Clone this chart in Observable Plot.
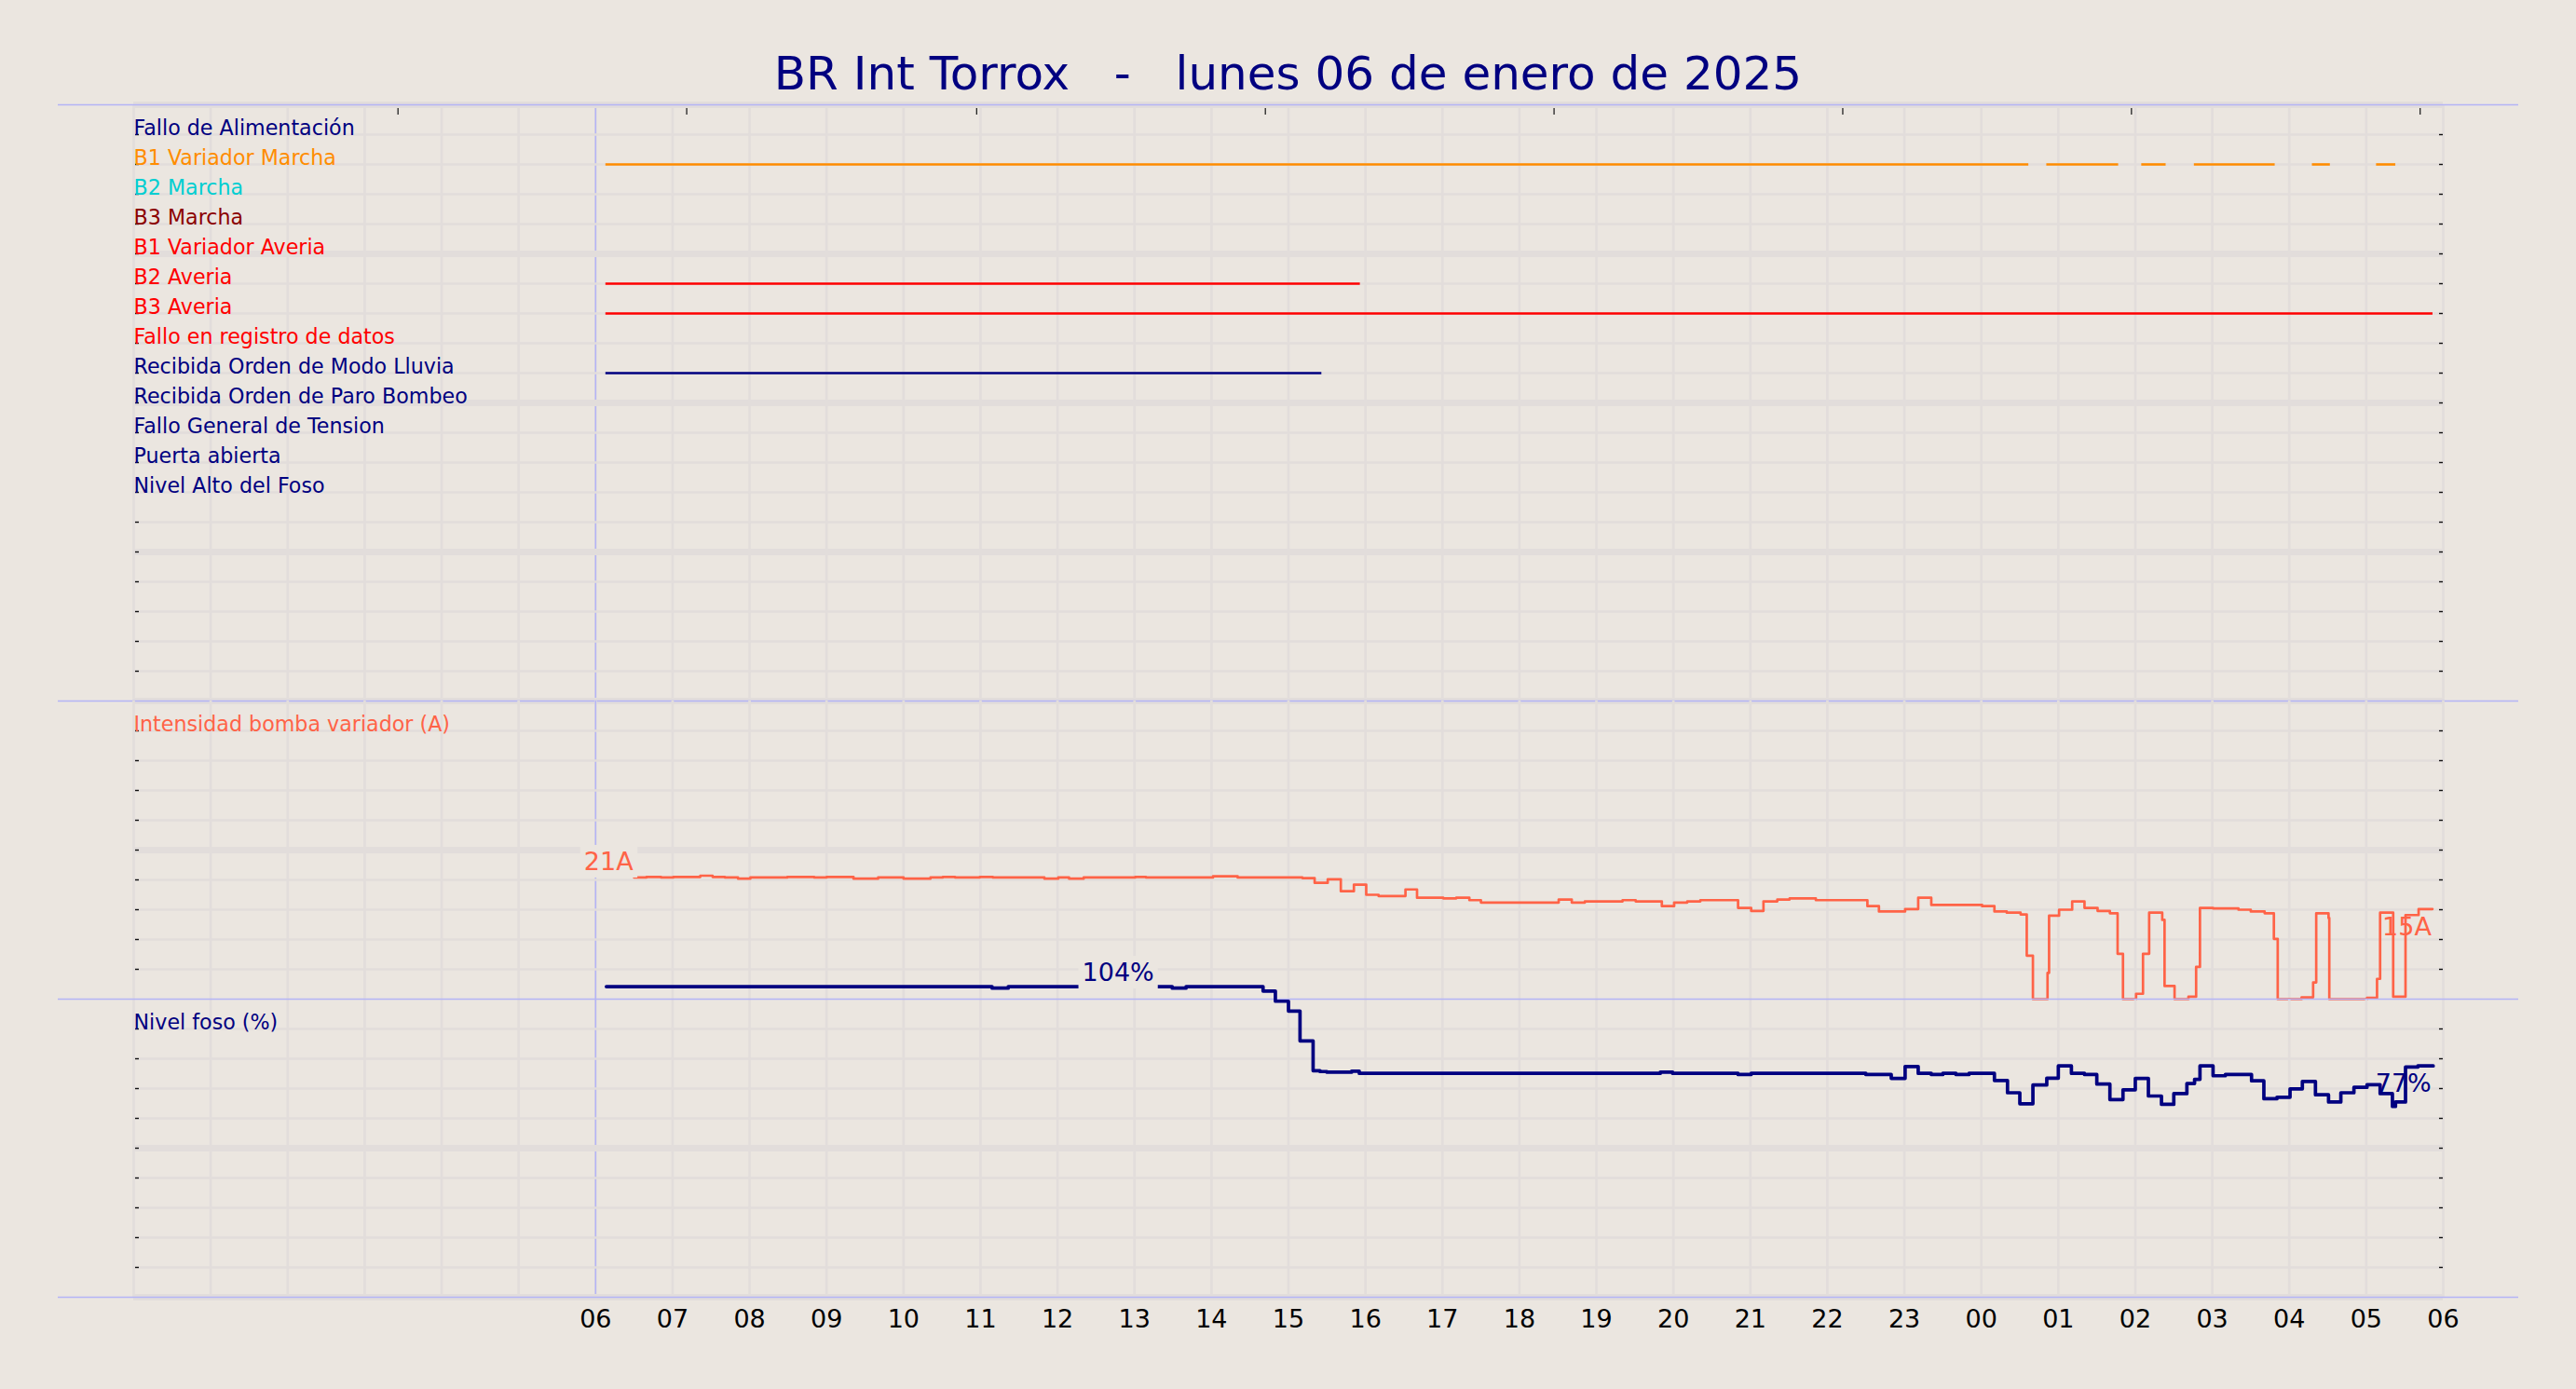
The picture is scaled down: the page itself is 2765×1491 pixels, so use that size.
<!DOCTYPE html>
<html>
<head>
<meta charset="utf-8">
<script src="https://cdn.jsdelivr.net/npm/d3@7"></script>
<script src="https://cdn.jsdelivr.net/npm/@observablehq/plot@0.6"></script>
<style>
  html, body { margin: 0; padding: 0; background: #ebe6e0; }
  #chart { position: relative; width: 2765px; height: 1491px; background: #ebe6e0; overflow: hidden; font-family: "DejaVu Sans", sans-serif; }
  #title { position: absolute; left: 0; top: 50px; width: 2765px; text-align: center; font-size: 50px; line-height: normal; color: #000080; white-space: pre; }
  .panel { position: absolute; left: 0; }
</style>
</head>
<body>
<div id="chart"><div id="title"></div></div>
<script>
// ---------------- DATA ----------------
const chartTitle = "BR Int Torrox   -   lunes 06 de enero de 2025";

const signalNames = [
  "Fallo de Alimentación", "B1 Variador Marcha", "B2 Marcha", "B3 Marcha",
  "B1 Variador Averia", "B2 Averia", "B3 Averia", "Fallo en registro de datos",
  "Recibida Orden de Modo Lluvia", "Recibida Orden de Paro Bombeo",
  "Fallo General de Tension", "Puerta abierta", "Nivel Alto del Foso"
];
const signalColors = [
  "#000080", "#ff8c00", "#00ced1", "#8b0000",
  "#ff0000", "#ff0000", "#ff0000", "#ff0000",
  "#000080", "#000080", "#000080", "#000080", "#000080"
];

// active intervals [start, end]
const b1VariadorMarchaOn = [
  ["2025-01-06 06:08", "2025-01-07 00:37"], ["2025-01-07 00:51", "2025-01-07 01:47"],
  ["2025-01-07 02:05", "2025-01-07 02:24"], ["2025-01-07 02:46", "2025-01-07 03:49"],
  ["2025-01-07 04:18", "2025-01-07 04:32"], ["2025-01-07 05:08", "2025-01-07 05:23"]
];
const b2AveriaOn = [["2025-01-06 06:08", "2025-01-06 15:56"]];
const b3AveriaOn = [["2025-01-06 06:08", "2025-01-07 05:52"]];
const modoLluviaOn = [["2025-01-06 06:08", "2025-01-06 15:26"]];

// Intensidad bomba variador (A): hours since 2025-01-06 00:00, step values
const currentHours = [6.50, 6.66, 6.85, 7.01, 7.36, 7.52, 7.68, 7.85, 8.01, 8.49, 8.84, 9.00, 9.35, 9.67, 10.00, 10.35, 10.51, 10.67, 10.99, 11.16, 11.83, 12.01, 12.15, 12.34, 13.01, 13.15, 14.02, 14.34, 15.18, 15.34, 15.51, 15.68, 15.85, 16.01, 16.17, 16.52, 16.67, 17.01, 17.18, 17.35, 17.50, 18.51, 18.68, 18.85, 19.34, 19.51, 19.85, 20.01, 20.18, 20.35, 20.84, 21.01, 21.17, 21.35, 21.51, 21.85, 22.52, 22.67, 23.01, 23.18, 23.35, 24.01, 24.17, 24.33, 24.51, 24.59, 24.67, 24.86, 24.88, 25.01, 25.18, 25.34, 25.51, 25.67, 25.77, 25.84, 26.01, 26.10, 26.18, 26.35, 26.38, 26.51, 26.69, 26.79, 26.84, 27.01, 27.34, 27.50, 27.68, 27.80, 27.85, 28.16, 28.31, 28.35, 28.51, 28.52, 29.01, 29.14, 29.18, 29.35, 29.51, 29.68, 29.86];
const currentAmps = [20.4, 20.5, 20.4, 20.5, 20.7, 20.5, 20.4, 20.2, 20.4, 20.5, 20.4, 20.5, 20.2, 20.4, 20.2, 20.4, 20.5, 20.4, 20.5, 20.4, 20.2, 20.4, 20.2, 20.4, 20.5, 20.4, 20.6, 20.4, 20.3, 19.5, 20.1, 18.1, 19.2, 17.5, 17.3, 18.4, 17.0, 16.9, 17.0, 16.6, 16.2, 16.7, 16.2, 16.4, 16.6, 16.4, 15.6, 16.2, 16.4, 16.6, 15.3, 14.8, 16.4, 16.7, 16.9, 16.6, 15.6, 14.7, 15.1, 17.0, 15.8, 15.6, 14.7, 14.5, 14.2, 7.3, 0, 4.4, 14.0, 15.0, 16.4, 15.3, 14.8, 14.4, 7.6, 0, 0.9, 7.6, 14.5, 13.3, 2.2, 0, 0.4, 5.4, 15.3, 15.2, 15.0, 14.7, 14.4, 10.1, 0, 0.3, 2.8, 14.4, 13.6, 0, 0.2, 3.4, 14.5, 0.4, 14.1, 15.1, 15.1];

// Nivel foso (%): hours since 2025-01-06 00:00, step values
const levelHours = [6.14, 11.15, 11.36, 13.49, 13.67, 14.67, 14.83, 15.00, 15.15, 15.32, 15.41, 15.50, 15.82, 15.92, 19.83, 19.99, 20.84, 21.01, 22.50, 22.83, 23.01, 23.18, 23.35, 23.50, 23.67, 23.84, 24.17, 24.34, 24.50, 24.67, 24.85, 25.00, 25.17, 25.34, 25.50, 25.67, 25.84, 26.00, 26.17, 26.34, 26.50, 26.67, 26.77, 26.84, 27.01, 27.17, 27.51, 27.67, 27.84, 28.01, 28.17, 28.34, 28.51, 28.67, 28.84, 29.01, 29.18, 29.34, 29.38, 29.51, 29.67, 29.87];
const levelPct = [104.2, 103.7, 104.2, 103.7, 104.2, 102.7, 99.3, 96.0, 86.0, 76.0, 75.7, 75.5, 75.8, 75.1, 75.5, 75.1, 74.7, 75.1, 74.7, 73.4, 77.4, 75.1, 74.7, 75.1, 74.7, 75.1, 72.7, 68.6, 64.9, 71.2, 73.5, 77.6, 75.1, 74.7, 71.5, 66.3, 69.6, 73.4, 67.5, 64.7, 68.3, 71.7, 73.1, 77.6, 74.3, 74.7, 72.6, 66.6, 67.1, 69.9, 72.4, 67.9, 65.5, 68.6, 70.4, 71.3, 68.3, 64.0, 65.5, 77.2, 77.6, 77.6];

// value annotations
const currentLabelHours = [6.50, 29.86];
const currentLabelValues = [20.4, 15.1];
const currentLabelTexts = ["21A", "15A"];
const levelLabelHours = [12.32, 29.87];
const levelLabelValues = [104.2, 77.6];
const levelLabelTexts = ["104%", "77%"];

const currentTitle = "Intensidad bomba variador (A)";
const levelTitle = "Nivel foso (%)";

const xTickLabels = ["06","07","08","09","10","11","12","13","14","15","16","17","18","19","20","21","22","23","00","01","02","03","04","05","06"];
const topTickTimes = ["2025-01-06 03:26", "2025-01-06 07:11", "2025-01-06 10:57", "2025-01-06 14:42", "2025-01-06 18:27", "2025-01-06 22:12", "2025-01-07 01:57", "2025-01-07 05:42"];
const dayStart = "2025-01-06 06:00";
const domainStart = "2025-01-06 00:00";
const domainEnd = "2025-01-07 06:00";

// ---------------- HELPERS ----------------
const parse = d3.utcParse("%Y-%m-%d %H:%M");
const base = parse(domainStart);
const T = h => new Date(+base + h * 3600e3);
const xDomain = [parse(domainStart), parse(domainEnd)];

const W = 2765, ML = 143, MR = 143, FW = W - ML - MR;
const BG = "#ebe6e0", GRID = "#e2dddb", LAV = "#b4b4f6";
const NAVY = "#000080", TOMATO = "#ff6347";

document.getElementById("title").textContent = chartTitle;

const currentData = currentHours.map((h, i) => ({t: T(h), v: currentAmps[i]}));
const levelData = levelHours.map((h, i) => ({t: T(h), v: levelPct[i]}));
const hourGrid = d3.range(0, 31).map(T);

const segments = [];
[["B1 Variador Marcha", b1VariadorMarchaOn], ["B2 Averia", b2AveriaOn],
 ["B3 Averia", b3AveriaOn], ["Recibida Orden de Modo Lluvia", modoLluviaOn]].forEach(([name, ivs]) => {
  const i = signalNames.indexOf(name);
  ivs.forEach(([a, b]) => segments.push({row: i + 1, x1: parse(a), x2: parse(b), color: signalColors[i]}));
});

const tickDates = xTickLabels.map((l, i) => T(6 + i));
const tickLabelByTime = new Map(tickDates.map((d, i) => [+d, xTickLabels[i]]));

function vGrid() {
  return [
    Plot.ruleX(hourGrid, {x: d => d, stroke: GRID, strokeWidth: 2.7}),
    Plot.ruleX([parse(dayStart)], {x: d => d, stroke: LAV, strokeWidth: 1.5})
  ];
}
function hGrid(thin, thick) {
  return [
    Plot.ruleY(thin, {y: d => d, stroke: GRID, strokeWidth: 2.7}),
    Plot.ruleY(thick, {y: d => d, stroke: GRID, strokeWidth: 7})
  ];
}
function sideTicks(vals) {
  return [
    Plot.ruleY(vals, {y: d => d, stroke: "#111", strokeWidth: 1.4, insetLeft: 2, insetRight: FW - 6}),
    Plot.ruleY(vals, {y: d => d, stroke: "#111", strokeWidth: 1.4, insetLeft: FW - 4, insetRight: 0})
  ];
}
function separators(vals) {
  return Plot.ruleY(vals, {y: d => d, stroke: LAV, strokeWidth: 1.5, insetLeft: -81, insetRight: -81});
}
const commonStyle = {background: "transparent", overflow: "visible", fontFamily: "DejaVu Sans, sans-serif", maxWidth: "none", color: "#000"};

function place(svg, top) {
  const wrap = document.createElement("div");
  wrap.className = "panel";
  wrap.style.top = top + "px";
  wrap.appendChild(svg);
  document.getElementById("chart").appendChild(wrap);
  // label boxes (bbox behind text)
  svg.querySelectorAll('g[aria-description="boxed"] text').forEach(t => {
    const b = t.getBBox();
    const r = document.createElementNS("http://www.w3.org/2000/svg", "rect");
    const p = 4;
    r.setAttribute("x", b.x - p); r.setAttribute("y", b.y - p + 2);
    r.setAttribute("width", b.width + 2 * p); r.setAttribute("height", b.height + 2 * p - 4);
    r.setAttribute("fill", BG);
    r.setAttribute("stroke", "none");
    if (t.getAttribute("transform")) r.setAttribute("transform", t.getAttribute("transform"));
    t.parentNode.insertBefore(r, t);
  });
}

// ---------------- PANEL 1: signals ----------------
const rows = d3.range(0, 21);
const p1 = Plot.plot({
  width: W, height: 652, marginTop: 12, marginBottom: 0, marginLeft: ML, marginRight: MR,
  x: {type: "utc", domain: xDomain, axis: null},
  y: {domain: [0, 20], reverse: true, axis: null},
  color: {type: "identity"},
  style: commonStyle,
  marks: [
    ...vGrid(),
    ...hGrid(rows.filter(r => r % 5 !== 0), rows.filter(r => r % 5 === 0)),
    separators([0, 20]),
    ...sideTicks(d3.range(1, 20)),
    Plot.ruleX(topTickTimes.map(parse), {x: d => d, stroke: "#222", strokeWidth: 1.3, insetTop: 4, insetBottom: 640 - 11}),
    Plot.ruleY(segments, {y: "row", x1: "x1", x2: "x2", stroke: "color", strokeWidth: 2.6}),
    Plot.text(signalNames, {x: () => xDomain[0], y: (d, i) => i + 1, text: d => d, fill: (d, i) => signalColors[i],
      textAnchor: "start", lineAnchor: "bottom", fontSize: 22.2})
  ]
});
place(p1, 100);

// ---------------- PANEL 2: current ----------------
const ampGrid = d3.range(0, 55, 5);
const p2 = Plot.plot({
  width: W, height: 340, marginTop: 20, marginBottom: 0, marginLeft: ML, marginRight: MR,
  x: {type: "utc", domain: xDomain, axis: null},
  y: {domain: [0, 50], axis: null},
  color: {type: "identity"},
  style: commonStyle,
  marks: [
    ...vGrid(),
    ...hGrid(ampGrid.filter(v => v > 0 && v < 50 && v !== 25), [25]),
    ...sideTicks(ampGrid.filter(v => v > 0 && v < 50)),
    Plot.text([currentTitle], {x: () => xDomain[0], y: () => 45, text: d => d, fill: TOMATO,
      textAnchor: "start", lineAnchor: "bottom", fontSize: 22.2}),
    Plot.line(currentData, {x: "t", y: "v", curve: "step-after", stroke: TOMATO, strokeWidth: 2.7}),
    Plot.text([0], {x: () => T(currentLabelHours[0]), y: () => currentLabelValues[0], text: () => currentLabelTexts[0],
      fill: TOMATO, textAnchor: "end", lineAnchor: "bottom", dx: -1, dy: -8, fontSize: 27, ariaDescription: "boxed"}),
    Plot.text([1], {x: () => T(currentLabelHours[1]), y: () => currentLabelValues[1], text: () => currentLabelTexts[1],
      fill: TOMATO, textAnchor: "end", lineAnchor: "bottom", dx: -1, dy: 28, fontSize: 27})
  ]
});
place(p2, 732);

// ---------------- PANEL 3: level ----------------
const pctGrid = d3.range(0, 110, 10);
const p3 = Plot.plot({
  width: W, height: 449, marginTop: 30, marginBottom: 99, marginLeft: ML, marginRight: MR,
  x: {type: "utc", domain: xDomain},
  y: {domain: [0, 100], axis: null},
  color: {type: "identity"},
  style: commonStyle,
  marks: [
    ...vGrid(),
    ...hGrid(pctGrid.filter(v => v > 0 && v < 100 && v !== 50), [0, 50]),
    separators([0, 100]),
    ...sideTicks(pctGrid.filter(v => v > 0 && v < 100)),
    Plot.axisX(tickDates, {tickFormat: d => tickLabelByTime.get(+d), tickSize: 0, tickPadding: 13, fontSize: 27, fill: "#000", label: null}),
    Plot.text([levelTitle], {x: () => xDomain[0], y: () => 90, text: d => d, fill: NAVY,
      textAnchor: "start", lineAnchor: "bottom", fontSize: 22.2}),
    Plot.line(levelData, {x: "t", y: "v", curve: "step-after", stroke: NAVY, strokeWidth: 3.7}),
    Plot.text([0], {x: () => T(levelLabelHours[0]), y: () => levelLabelValues[0], text: () => levelLabelTexts[0],
      fill: NAVY, textAnchor: "start", lineAnchor: "bottom", dy: -6, fontSize: 27, ariaDescription: "boxed"}),
    Plot.text([1], {x: () => T(levelLabelHours[1]), y: () => levelLabelValues[1], text: () => levelLabelTexts[1],
      fill: NAVY, textAnchor: "end", lineAnchor: "bottom", dx: -2, dy: 28, fontSize: 27})
  ]
});
place(p3, 1042);
</script>
</body>
</html>
